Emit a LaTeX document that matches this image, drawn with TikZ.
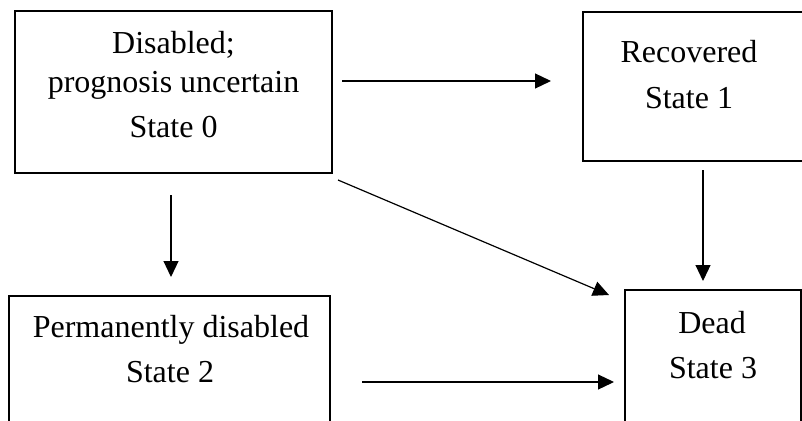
\documentclass[tikz,border=0pt]{standalone}
\usepackage{fontspec}
\setmainfont{Liberation Serif}
\usetikzlibrary{arrows.meta}
\begin{document}
\begin{tikzpicture}[x=1pt,y=-1pt,
  statebox/.style={draw=black,line width=2.2pt,rectangle,inner sep=0pt},
  lbl/.style={anchor=base,inner sep=0pt,font=\fontsize{32}{38}\selectfont},
  conn/.style={line width=1.2pt,-{Triangle[length=16pt,width=15pt]}}]
\useasboundingbox (0,0) rectangle (802,420);
\clip (0,0) rectangle (802,420);
% boxes
\node[statebox,minimum width=317pt,minimum height=162pt] (s0) at (173.5,92) {};
\node[statebox,minimum width=232pt,minimum height=149pt] (s1) at (699,86.5) {};
\node[statebox,minimum width=321pt,minimum height=140pt] (s2) at (169.5,366) {};
\node[statebox,minimum width=176pt,minimum height=150pt] (s3) at (713,365) {};
% texts
\node[lbl] (t0a) at (173.5,53) {Disabled;};
\node[lbl] (t0b) at (173.5,92) {prognosis uncertain};
\node[lbl] (t0c) at (173.5,137) {State 0};
\node[lbl] (t1a) at (689,63) {Recovered};
\node[lbl] (t1b) at (689,108) {State 1};
\node[lbl] (t2a) at (171,337) {Permanently disabled};
\node[lbl] (t2b) at (170,382) {State 2};
\node[lbl] (t3a) at (712,333) {Dead};
\node[lbl] (t3b) at (713,378) {State 3};
% connector end points
\coordinate (a01s) at (342,81);
\coordinate (a01e) at (551,81);
\coordinate (a02s) at (171,195);
\coordinate (a02e) at (171,277);
\coordinate (a03s) at (338,180);
\coordinate (a03e) at (609,295);
\coordinate (a13s) at (703,170);
\coordinate (a13e) at (703,281);
\coordinate (a23s) at (362,382);
\coordinate (a23e) at (614,382);
% connectors
\draw[conn] (a01s) -- (a01e);
\draw[conn] (a02s) -- (a02e);
\draw[conn] (a03s) -- (a03e);
\draw[conn] (a13s) -- (a13e);
\draw[conn] (a23s) -- (a23e);
\end{tikzpicture}
\end{document}
